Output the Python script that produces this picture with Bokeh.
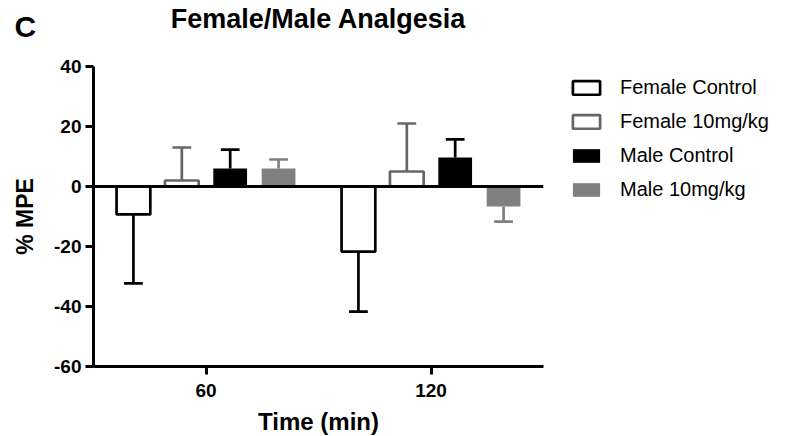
from bokeh.plotting import figure
from bokeh.models import Range1d, FixedTicker, Span, Legend, LegendItem, Label, ColumnDataSource
from bokeh.embed import file_html
from bokeh.resources import INLINE

# ---- data ----
times = [60, 120]
tick_labels = ["60", "120"]
y_ticks = [-60, -40, -20, 0, 20, 40]
y_tick_labels = ["-60", "-40", "-20", "0", "20", "40"]
series = ["Female Control", "Female 10mg/kg", "Male Control", "Male 10mg/kg"]
female_control = [-9.3, -21.7]
female_control_err = [23.0, 20.0]
female_10 = [2.0, 5.0]
female_10_err = [11.0, 16.0]
male_control = [6.0, 9.7]
male_control_err = [6.3, 6.0]
male_10 = [6.0, -6.7]
male_10_err = [3.0, 5.0]
title_text = "Female/Male Analgesia"
panel_letter = "C"

means = [female_control, female_10, male_control, male_10]
errs = [female_control_err, female_10_err, male_control_err, male_10_err]

# ---- styles ----
FONT = "Liberation Sans"
fills = ["white", "white", "black", "#808080"]
outlines = ["black", "#666666", "black", "#808080"]
err_colors = ["black", "#666666", "black", "#808080"]
pitch = 12.9
bar_w = 9.0
cap_half = 2.5
LW = 2.7

p = figure(width=800, height=436, output_backend="svg", toolbar_location=None,
           x_range=Range1d(30, 150), y_range=Range1d(-60, 40),
           min_border_left=93, min_border_top=66, min_border_bottom=70, min_border_right=10,
           frame_width=450, frame_height=300)
p.outline_line_color = None
p.grid.visible = False
p.background_fill_color = "white"

items = []
for i, name in enumerate(series):
    xs = [t + (i - 1.5) * pitch for t in times]
    ys = means[i]
    ends = [m + (e if m >= 0 else -e) for m, e in zip(ys, errs[i])]
    p.segment(x0=xs, y0=ys, x1=xs, y1=ends, line_color=err_colors[i], line_width=LW)
    p.segment(x0=[x - cap_half for x in xs], y0=ends, x1=[x + cap_half for x in xs], y1=ends,
              line_color=err_colors[i], line_width=LW)
    src = ColumnDataSource(dict(x=xs, top=ys))
    lw = LW if fills[i] == "white" else 0
    r = p.vbar(x="x", top="top", bottom=0, width=bar_w, source=src,
               fill_color=fills[i], line_color=outlines[i], line_width=lw)
    items.append(LegendItem(label=name, renderers=[r]))

p.add_layout(Span(location=0, dimension="width", line_color="black", line_width=3))

for ax in (p.xaxis[0], p.yaxis[0]):
    ax.axis_line_width = 3
    ax.axis_line_color = "black"
    ax.major_tick_line_width = 3
    ax.major_tick_line_color = "black"
    ax.major_tick_in = 0
    ax.major_tick_out = 8
    ax.minor_tick_line_color = None
    ax.major_label_text_font = FONT
    ax.major_label_text_font_style = "bold"
    ax.major_label_text_font_size = "19px"
    ax.major_label_text_color = "black"
    ax.major_label_standoff = 4
    ax.axis_label_text_font = FONT
    ax.axis_label_text_font_style = "bold"
    ax.axis_label_text_font_size = "23px"
    ax.axis_label_text_color = "black"

p.xaxis.ticker = FixedTicker(ticks=times)
p.xaxis.major_label_overrides = {t: l for t, l in zip(times, tick_labels)}
p.xaxis.major_label_standoff = 9
p.xaxis.axis_label = "Time (min)"
p.xaxis.axis_label_text_font_size = "24px"
p.xaxis.axis_label_standoff = 8
p.yaxis.ticker = FixedTicker(ticks=y_ticks)
p.yaxis.major_label_overrides = {t: l for t, l in zip(y_ticks, y_tick_labels)}
p.yaxis.axis_label = "% MPE"
p.yaxis.axis_label_standoff = 13

legend = Legend(items=items, location=(26, 165), glyph_width=34, glyph_height=17,
                label_text_font=FONT, label_text_font_size="20px", label_text_color="black",
                label_standoff=17, label_height=20,
                spacing=11, padding=0, margin=0, border_line_color=None,
                background_fill_alpha=0)
p.add_layout(legend, "right")

# title and panel letter placed in the top border
p.add_layout(Label(x=225, y=48, x_units="screen", y_units="screen", text=title_text,
                   text_align="center", text_baseline="alphabetic", text_color="black",
                   text_font=FONT, text_font_style="bold", text_font_size="27px"), "above")
p.add_layout(Label(x=-79, y=10, x_units="screen", y_units="screen", text=panel_letter,
                   text_align="left", text_baseline="alphabetic", text_color="black",
                   text_font=FONT, text_font_style="bold", text_font_size="30px"), "above")

open("out.html", "w").write(file_html(p, INLINE))
